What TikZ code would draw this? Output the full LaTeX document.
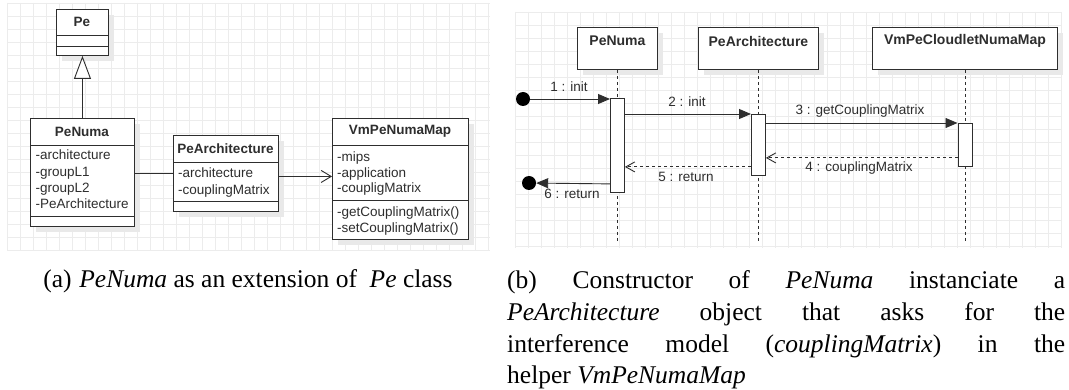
\documentclass[tikz,border=0pt]{standalone}
\usepackage{fontspec}
\setmainfont{Liberation Serif}
\newfontfamily\umlsans{Liberation Sans}
\usetikzlibrary{arrows.meta,shadows}

\definecolor{gridc}{HTML}{ECECEC}
\definecolor{inkc}{HTML}{2E2E2E}
\definecolor{shadowc}{HTML}{E9E9E9}

\tikzset{
  gridline/.style={draw=gridc, line width=0.6pt},
  umlshadow/.style={drop shadow={shadow xshift=6pt, shadow yshift=-6pt, fill=shadowc, opacity=1}},
  classbox/.style={draw=inkc, fill=white, line width=0.9pt, inner sep=0pt, anchor=north west, umlshadow},
  sep/.style={draw=inkc, line width=0.9pt},
  classname/.style={inner sep=0pt, text=inkc, font=\umlsans\bfseries\fontsize{13.5}{16}\selectfont},
  members/.style={inner sep=0pt, anchor=north west, align=left, text=inkc, font=\umlsans\fontsize{13.5}{16.2}\selectfont},
  inherit/.style={draw=inkc, line width=0.9pt, -{Triangle[open, length=23pt, width=17pt, fill=white]}},
  assoc/.style={draw=inkc, line width=0.9pt},
  navassoc/.style={draw=inkc, line width=0.9pt, -{Straight Barb[length=10pt, width=12pt]}},
  headbox/.style={draw=inkc, fill=white, line width=0.9pt, inner sep=0pt, anchor=north west, minimum height=42pt, umlshadow},
  lifeline/.style={draw=inkc, line width=0.9pt, dash pattern=on 3pt off 3pt},
  actbox/.style={draw=inkc, fill=white, line width=0.9pt, inner sep=0pt, minimum width=14pt, anchor=north},
  endpoint/.style={circle, fill=black, inner sep=0pt, minimum size=14pt},
  call/.style={draw=inkc, line width=0.9pt, -{Triangle[length=12pt, width=10pt]}},
  reply/.style={draw=inkc, line width=0.9pt, dash pattern=on 3pt off 3pt, -{Straight Barb[length=9pt, width=10pt]}},
  msglabel/.style={inner sep=0pt, text=inkc, font=\umlsans\fontsize{13.5}{16}\selectfont},
  captiontext/.style={inner sep=0pt, text=black, font=\fontsize{25.5}{31.7}\selectfont},
}

\begin{document}
\begin{tikzpicture}[x=1pt, y=-1pt]
\useasboundingbox (0,0) rectangle (1069,390);
\fill[white] (0,0) rectangle (1069,390);

% background grids of both panels
\foreach \gx in {7,20,...,490} \draw[gridline] (\gx,3) -- (\gx,250);
\foreach \gy in {3,16,...,250} \draw[gridline] (7,\gy) -- (490,\gy);
\foreach \gx in {515,528,...,1062} \draw[gridline] (\gx,12) -- (\gx,248);
\foreach \gy in {12,25,...,248} \draw[gridline] (515,\gy) -- (1062,\gy);

% ---------------- class diagram ----------------
\node[classbox, minimum width=52pt, minimum height=46pt] (pe) at (56,9) {};
\draw[sep] (pe.west |- 0,35) -- (pe.east |- 0,35);
\draw[sep] (pe.west |- 0,46) -- (pe.east |- 0,46);
\node[classname] (pe-name) at (82,22) {Pe};

\node[classbox, minimum width=104pt, minimum height=108pt] (penuma) at (30,118) {};
\draw[sep] (penuma.west |- 0,145) -- (penuma.east |- 0,145);
\draw[sep] (penuma.west |- 0,216) -- (penuma.east |- 0,216);
\node[classname] (penuma-name) at (82,131.5) {PeNuma};
\node[members] (penuma-attrs) at (35.5,150) {-architecture\\-groupL1\\-groupL2\\-PeArchitecture};

\node[classbox, minimum width=105pt, minimum height=76pt] (pearch) at (173,135) {};
\draw[sep] (pearch.west |- 0,162) -- (pearch.east |- 0,162);
\draw[sep] (pearch.west |- 0,201) -- (pearch.east |- 0,201);
\node[classname] (pearch-name) at (225.5,148.5) {PeArchitecture};
\node[members] (pearch-attrs) at (178,168) {-architecture\\-couplingMatrix};

\node[classbox, minimum width=136pt, minimum height=121pt] (vmmap) at (332,118) {};
\draw[sep] (vmmap.west |- 0,145) -- (vmmap.east |- 0,145);
\draw[sep] (vmmap.west |- 0,200) -- (vmmap.east |- 0,200);
\node[classname] (vmmap-name) at (400,131.5) {VmPeNumaMap};
\node[members, font=\umlsans\fontsize{13.5}{15.3}\selectfont] (vmmap-attrs) at (337,152) {-mips\\-application\\-coupligMatrix};
\node[members, font=\umlsans\fontsize{13.5}{15.3}\selectfont] (vmmap-ops) at (337,207) {-getCouplingMatrix()\\-setCouplingMatrix()};

\draw[inherit] (penuma.north) -- (pe.south);
\draw[assoc] (pearch.west) -- (pearch.west -| penuma.east);
\draw[navassoc] ([yshift=-3pt]pearch.east) -- ([yshift=-3pt]pearch.east -| vmmap.west);

% ---------------- sequence diagram ----------------
\node[headbox, minimum width=80pt] (s-penuma) at (577,27) {};
\node[headbox, minimum width=120pt] (s-pearch) at (698,27) {};
\node[headbox, minimum width=185pt] (s-vmmap) at (872,27) {};
\node[classname, font=\umlsans\bfseries\fontsize{14}{16}\selectfont] (s-penuma-name) at (s-penuma.north |- 0,41) {PeNuma};
\node[classname, font=\umlsans\bfseries\fontsize{14}{16}\selectfont] (s-pearch-name) at (s-pearch.north |- 0,41) {PeArchitecture};
\node[classname, font=\umlsans\bfseries\fontsize{14}{16}\selectfont] (s-vmmap-name) at (s-vmmap.north |- 0,41) {VmPeCloudletNumaMap};

\coordinate (ll1) at (s-penuma.south |- 0,243);
\coordinate (ll2) at (s-pearch.south |- 0,243);
\coordinate (ll3) at (s-vmmap.south |- 0,243);
\draw[lifeline] (s-penuma.south) -- (ll1);
\draw[lifeline] (s-pearch.south) -- (ll2);
\draw[lifeline] (s-vmmap.south) -- (ll3);

\node[actbox, minimum height=94pt] (act1) at (s-penuma.south |- 0,98) {};
\node[actbox, minimum height=61pt] (act2) at (s-pearch.south |- 0,114) {};
\node[actbox, minimum height=43pt] (act3) at (s-vmmap.south |- 0,123) {};

\node[endpoint] (start) at (523,99) {};
\node[endpoint] (stop) at (529,183) {};

\draw[call] (start) -- (start -| act1.west);
\node[msglabel] (m1) at (569,87) {1 : init};
\draw[call] (act2.north west -| act1.east) -- (act2.north west);
\node[msglabel] (m2) at (687,102) {2 : init};
\draw[call] (act3.north west -| act2.east) -- (act3.north west);
\node[msglabel] (m3) at (860,111) {3 : getCouplingMatrix};
\draw[reply] ([yshift=9pt]act3.south west) -- ([yshift=9pt]act3.south west -| act2.east);
\node[msglabel] (m4) at (859,168) {4 : couplingMatrix};
\draw[reply] ([yshift=9pt]act2.south west) -- ([yshift=9pt]act2.south west -| act1.east);
\node[msglabel] (m5) at (686,177) {5 : return};
\draw[call] ([yshift=9pt]act1.south west) -- (stop);
\node[msglabel] (m6) at (572,194) {6 : return};

% ---------------- captions ----------------
\node[captiontext] (cap-a) at (248,281.5) {(a)\hspace{0.3em}\textit{PeNuma} as an extension of\hspace{0.5em}\textit{Pe} class};
\node[captiontext, anchor=north west, text width=558pt, align=justify] (cap-b) at (507,270.6)
  {(b) Constructor of \textit{PeNuma} instanciate a\linebreak
   \textit{PeArchitecture} object that asks for the\linebreak
   interference model (\textit{couplingMatrix}) in the\linebreak
   helper \textit{VmPeNumaMap}};
\end{tikzpicture}
\end{document}
